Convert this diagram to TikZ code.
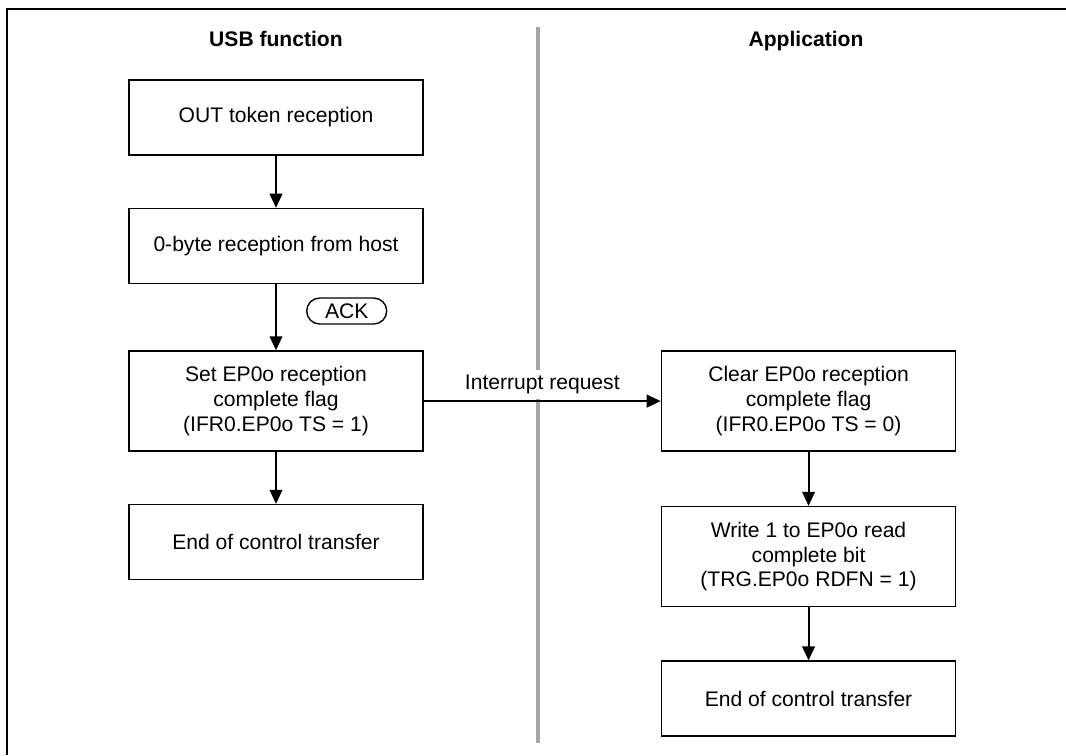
\documentclass[tikz,border=0pt]{standalone}
\usepackage{fontspec}
\setmainfont{Liberation Sans}
\usetikzlibrary{arrows.meta, positioning}
\tikzstyle{block} = [rectangle, minimum width=7.35cm, minimum height=1.875cm,
    text centered, align=center, draw=black, line width=1.1pt, fill=white,
    font=\fontsize{15}{17.7}\selectfont]
\tikzstyle{tallblock} = [block, minimum height=2.5cm]
\tikzstyle{heading} = [anchor=base, font=\fontsize{15}{18}\selectfont\bfseries]
\tikzstyle{ackoval} = [rectangle, rounded corners=0.325cm, minimum width=2cm, minimum height=0.65cm,
    inner sep=0pt, draw=black, line width=1pt, font=\fontsize{15}{18}\selectfont]
\tikzstyle{irqlabel} = [fill=white, font=\fontsize{15}{18}\selectfont]
\tikzstyle{arrow} = [line width=1.4pt, -{Triangle[length=10pt,width=9pt]}]
\tikzstyle{divider} = [line width=2.2pt, draw=black!35]
\tikzstyle{frame} = [line width=1.6pt]

\begin{document}
\begin{tikzpicture}[node distance=1.3cm]
  \useasboundingbox (0,0) rectangle (26.65,-18.875);
  \coordinate (frmbl) at (0.175,-18.875);
  \coordinate (frmtr) at (26.65,-0.225);
  \draw[frame] (frmbl) |- (frmtr);
  \coordinate (divtop) at (13.45,-0.675);
  \coordinate (divbot) at (13.45,-18.575);
  \draw[divider] (divtop) -- (divbot);

  \node (usbhead) [heading] at (6.9,-1.15) {USB function};
  \node (apphead) [heading] at (20.15,-1.15) {Application};

  \node (outtok)   [block] at (6.9,-2.9375) {OUT token reception};
  \node (zerobyte) [block, below=of outtok] {0-byte reception from host};
  \node (setflag)  [tallblock, below=1.65cm of zerobyte] {Set EP0o reception\\complete flag\\(IFR0.EP0o TS = 1)};
  \node (usbend)   [block, below=of setflag] {End of control transfer};
  \node (clrflag)  [tallblock, right=5.925cm of setflag] {Clear EP0o reception\\complete flag\\(IFR0.EP0o TS = 0)};
  \node (rdfn)     [tallblock, below=1.35cm of clrflag] {Write 1 to EP0o read\\complete bit\\(TRG.EP0o RDFN = 1)};
  \node (append)   [block, below=1.325cm of rdfn] {End of control transfer};
  \node (ack)      [ackoval, below right=0.325cm and 0.75cm of zerobyte.south] {ACK};

  \draw[arrow] (outtok)   -- (zerobyte);
  \draw[arrow] (zerobyte) -- (setflag);
  \draw[arrow] (setflag)  -- (usbend);
  \draw[arrow] (setflag)  -- node[irqlabel, above=1pt] {Interrupt request} (clrflag);
  \draw[arrow] (clrflag)  -- (rdfn);
  \draw[arrow] (rdfn)     -- (append);
\end{tikzpicture}
\end{document}
